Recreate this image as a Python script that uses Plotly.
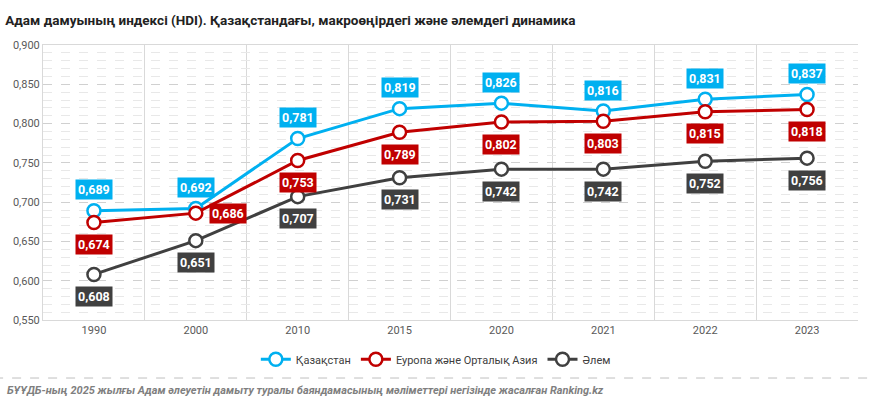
import plotly.graph_objects as go

years = ["1990", "2000", "2010", "2015", "2020", "2021", "2022", "2023"]
kaz = [0.689, 0.692, 0.781, 0.819, 0.826, 0.816, 0.831, 0.837]
eca = [0.674, 0.686, 0.753, 0.789, 0.802, 0.803, 0.815, 0.818]
world = [0.608, 0.651, 0.707, 0.731, 0.742, 0.742, 0.752, 0.756]

names = ["Қазақстан", "Еуропа және Орталық Азия", "Әлем"]
colors = ["#00B0F0", "#C00000", "#404040"]
# label placement per point: 'a' above, 'b' below, 'r' right
kaz_pos = ["a"] * 8
eca_pos = ["b", "r", "b", "b", "b", "b", "b", "b"]
world_pos = ["b"] * 8

FONT = "Roboto"
xs = list(range(len(years)))

fig = go.Figure()
for vals, name, col in zip([kaz, eca, world], names, colors):
    fig.add_trace(go.Scatter(
        x=xs, y=vals, name=name, mode="lines+markers",
        line=dict(color=col, width=3),
        marker=dict(size=13, color="white", line=dict(color=col, width=2.5)),
    ))

for vals, pos, col in zip([kaz, eca, world], [kaz_pos, eca_pos, world_pos], colors):
    for i, (v, p) in enumerate(zip(vals, pos)):
        kw = dict(x=i, y=v, text=f"<b>{v:.3f}</b>".replace(".", ","), showarrow=False,
                  bgcolor=col, font=dict(color="white", size=12.5, family=FONT),
                  borderpad=2)
        if p == "a":
            kw.update(yshift=21)
        elif p == "b":
            kw.update(yshift=-22)
        else:
            kw.update(xshift=32)
        fig.add_annotation(**kw)

fig.add_annotation(
    xref="paper", yref="paper", x=-0.047, y=-0.255, xanchor="left", yanchor="middle",
    text="<b><i>БҰҰДБ-ның 2025 жылғы Адам әлеуетін дамыту туралы баяндамасының мәліметтері негізінде жасалған Ranking.kz</i></b>",
    showarrow=False, font=dict(size=11, color="#7F7F7F", family=FONT),
)
fig.add_shape(type="line", xref="paper", yref="paper", x0=-0.06, x1=1.02, y0=-0.211, y1=-0.211,
              line=dict(color="#BFBFBF", width=1, dash="dash"))

fig.update_layout(
    width=872, height=404,
    margin=dict(l=43, r=14, t=45, b=84),
    paper_bgcolor="white", plot_bgcolor="white",
    separators=", ",
    font=dict(family=FONT, color="#595959", size=11),
    title=dict(text="<b>Адам дамуының индексі (HDI). Қазақстандағы, макроөңірдегі және әлемдегі динамика</b>",
               x=0.006, xanchor="left", xref="container", y=0.95, yanchor="middle",
               font=dict(size=13.5, color="#222222", family=FONT)),
    showlegend=True,
    legend=dict(orientation="h", x=0.482, xanchor="center", y=-0.143, yanchor="middle",
                font=dict(size=11, color="#404040", family=FONT), itemwidth=30,
                tracegroupgap=0),
    xaxis=dict(range=[-0.5, 7.5], tickmode="array", tickvals=xs, ticktext=years,
               showgrid=False, zeroline=False, ticks="", showline=True, linecolor="#D9D9D9",
               mirror=True, tickfont=dict(size=11, color="#595959"),
               minor=dict(tickmode="array", tickvals=[i + 0.5 for i in xs[:-1]], showgrid=True,
                          gridcolor="#D9D9D9", gridwidth=1)),
    yaxis=dict(range=[0.55, 0.9], dtick=0.05, tick0=0.55, tickformat=".3f",
               showgrid=True, gridcolor="#D0D0D0", griddash="dash", gridwidth=1,
               zeroline=False, showline=True, linecolor="#D9D9D9", ticks="",
               tickfont=dict(size=11, color="#595959"),
               minor=dict(dtick=0.01, tick0=0.55, showgrid=True, gridcolor="#E8E8E8", gridwidth=1)),
)

fig.write_html("out.html", config={"displayModeBar": False},
               post_script="document.body.style.margin='0';")
